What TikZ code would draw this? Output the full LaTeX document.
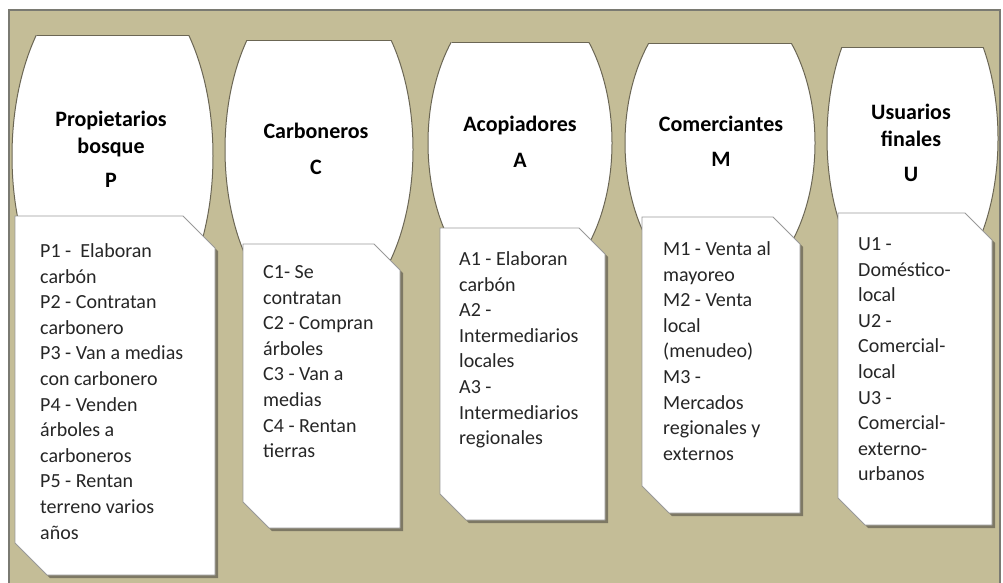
\documentclass[tikz,border=0pt]{standalone}
\usepackage{fontspec}
\setmainfont{Carlito}
\definecolor{khaki}{HTML}{C4BD97}
\definecolor{framegray}{HTML}{7A7A72}
\definecolor{outl}{HTML}{6B6654}
\definecolor{shadowc}{HTML}{7D7864}
\definecolor{txt}{HTML}{262626}
\newcommand\drawbarrel[6]{%
  \pgfmathsetmacro\bbot{2*#2-#5}%
  \begin{scope}
    \clip ({#1-#3-3},{#5}) rectangle ({#1+#3+3},{\bbot});
    \filldraw[barrel] (#1,#2) ellipse [x radius=#3pt, y radius=#4pt];
  \end{scope}
  \draw[barrel] ({#1-#6},{#5}) -- ({#1+#6},{#5});
  \draw[barrel] ({#1-#6},{\bbot}) -- ({#1+#6},{\bbot});
}
\newcommand\drawbox[5]{%
  \fill[shadowc, shift={(3,3)}] (#1,#2) -- ({#3-#5},#2) -- (#3,{#2+#5}) -- (#3,#4) -- ({#1+#5},#4) -- (#1,{#4-#5}) -- cycle;
  \filldraw[boxst] (#1,#2) -- ({#3-#5},#2) -- (#3,{#2+#5}) -- (#3,#4) -- ({#1+#5},#4) -- (#1,{#4-#5}) -- cycle;
}
\begin{document}
\begin{tikzpicture}[x=1pt,y=-1pt,
  barrel/.style={fill=white, draw=outl, line width=1pt},
  boxst/.style={fill=white, draw=gray!80, line width=0.8pt},
  hdr/.style={anchor=base, inner sep=0pt, text=black, font={\bfseries\fontsize{22}{27}\selectfont}},
  body/.style={anchor=base west, inner sep=0pt, text=txt, font={\fontsize{20}{25.6}\selectfont}}]
\useasboundingbox (0,0) rectangle (1003,582);
\fill[white] (0,0) rectangle (1003,582);
\filldraw[fill=khaki, draw=framegray, line width=1.5pt] (9,10) rectangle (1000,600);
% barrels
\drawbarrel{112.5}{156}{100.5}{185.5}{35}{76}
\drawbarrel{319}{149.6}{94}{170.5}{40}{72}
\drawbarrel{520}{143}{92}{152}{42}{68.5}
\drawbarrel{720}{143}{95}{151}{43}{71}
\drawbarrel{912.5}{138.5}{85.5}{162}{47}{70.5}
% boxes
\drawbox{15}{216}{215}{575}{32}
\drawbox{243}{244}{400}{528}{26}
\drawbox{440}{228}{605}{520}{26}
\drawbox{642}{217}{800}{513}{27}
\drawbox{838}{213}{992}{525}{27}
% headers
\node[hdr] (hP) at (111,126.5) {\begin{tabular}[t]{@{}c@{}}Propietarios\\bosque\\[7pt]P\end{tabular}};
\node[hdr] (hC) at (316,138) {\begin{tabular}[t]{@{}c@{}}Carboneros\\[9pt]C\end{tabular}};
\node[hdr] (hA) at (520,131) {\begin{tabular}[t]{@{}c@{}}Acopiadores\\[9pt]A\end{tabular}};
\node[hdr] (hM) at (721,131) {\begin{tabular}[t]{@{}c@{}}Comerciantes\\[8pt]M\end{tabular}};
\node[hdr] (hU) at (911,119) {\begin{tabular}[t]{@{}c@{}}Usuarios\\finales\\[8pt]U\end{tabular}};
% bodies
\node[body] (bP) at (40,257.5) {\begin{tabular}[t]{@{}l@{}}P1 -\ \ Elaboran\\carbón\\P2 - Contratan\\carbonero\\P3 - Van a medias\\con carbonero\\P4 - Venden\\árboles a\\carboneros\\P5 - Rentan\\terreno varios\\años\end{tabular}};
\node[body] (bC) at (263,278.5) {\begin{tabular}[t]{@{}l@{}}C1- Se\\contratan\\C2 - Compran\\árboles\\C3 - Van a\\medias\\C4 - Rentan\\tierras\end{tabular}};
\node[body] (bA) at (459,265.5) {\begin{tabular}[t]{@{}l@{}}A1 - Elaboran\\carbón\\A2 -\\Intermediarios\\locales\\A3 -\\Intermediarios\\regionales\end{tabular}};
\node[body] (bM) at (663,255.5) {\begin{tabular}[t]{@{}l@{}}M1 - Venta al\\mayoreo\\M2 - Venta\\local\\(menudeo)\\M3 -\\Mercados\\regionales y\\externos\end{tabular}};
\node[body] (bU) at (858,250.5) {\begin{tabular}[t]{@{}l@{}}U1 -\\Doméstico-\\local\\U2 -\\Comercial-\\local\\U3 -\\Comercial-\\externo-\\urbanos\end{tabular}};
\end{tikzpicture}
\end{document}
